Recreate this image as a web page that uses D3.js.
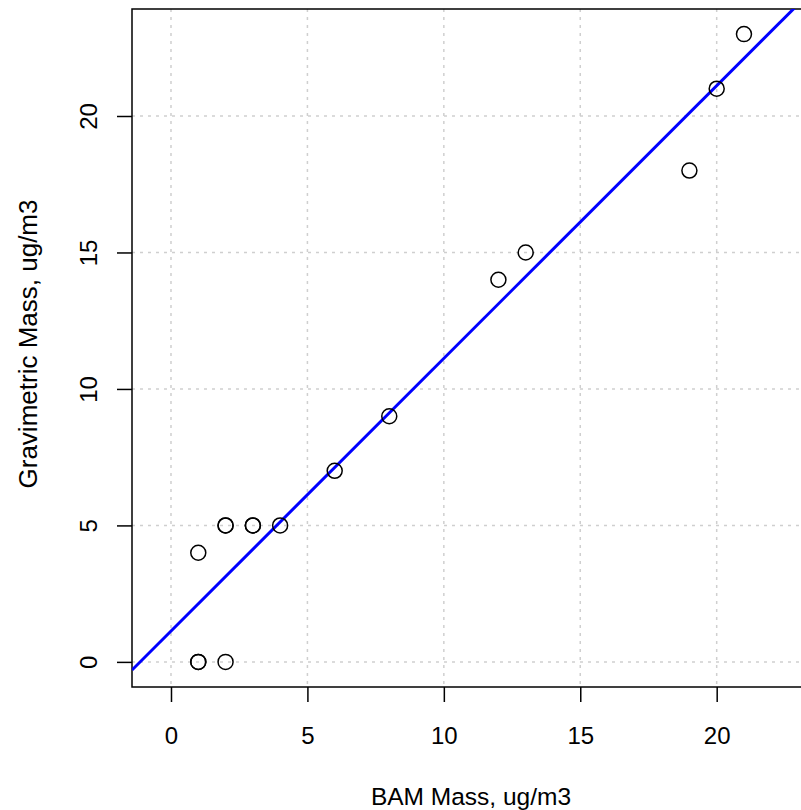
<!DOCTYPE html>
<html>
<head>
<meta charset="utf-8">
<script src="https://cdn.jsdelivr.net/npm/d3@7"></script>
<style>
  html, body { margin: 0; padding: 0; background: #fff; }
  svg { display: block; font-family: "Liberation Sans", Arial, sans-serif; }
</style>
</head>
<body>
<div id="chart"></div>
<script>
// ---- data ----
const bamMass = [1, 1, 2, 1, 2, 2, 3, 3, 4, 6, 8, 12, 13, 19, 20, 21];
const gravMass = [0, 0, 0, 4, 5, 5, 5, 5, 5, 7, 9, 14, 15, 18, 21, 23];
const xTicks = [0, 5, 10, 15, 20];
const yTicks = [0, 5, 10, 15, 20];
const fitIntercept = 1.13;
const fitSlope = 0.999;
const xTitle = "BAM Mass, ug/m3";
const yTitle = "Gravimetric Mass, ug/m3";

// ---- layout ----
const W = 801, H = 810;
const pLeft = 132, pRight = 810, pTop = 9, pBottom = 687;

const svg = d3.select("#chart").append("svg")
  .attr("width", W).attr("height", H);

const x = d3.scaleLinear().domain([-1.429, 23.42]).range([pLeft, pRight]);
const y = d3.scaleLinear().domain([-0.92, 23.92]).range([pBottom, pTop]);

svg.append("defs").append("clipPath").attr("id", "plotclip")
  .append("rect").attr("x", pLeft).attr("y", pTop)
  .attr("width", pRight - pLeft).attr("height", pBottom - pTop);

// grid
const grid = svg.append("g");
grid.selectAll("line.gx").data(xTicks).join("line")
  .attr("x1", d => x(d)).attr("x2", d => x(d))
  .attr("y1", pTop).attr("y2", pBottom)
  .attr("stroke", "#cfcfcf").attr("stroke-width", 1.5)
  .attr("stroke-dasharray", "3,5");
grid.selectAll("line.gy").data(yTicks).join("line")
  .attr("y1", d => y(d)).attr("y2", d => y(d))
  .attr("x1", pLeft).attr("x2", pRight)
  .attr("stroke", "#cfcfcf").attr("stroke-width", 1.5)
  .attr("stroke-dasharray", "3,5");

// axes
const xAxis = d3.axisBottom(x).tickValues(xTicks).tickSize(15).tickPadding(0).tickFormat(d3.format("d"));
const gx = svg.append("g").attr("transform", `translate(0,${pBottom})`).call(xAxis);
gx.select(".domain").remove();
gx.selectAll(".tick line").attr("stroke", "#000").attr("stroke-width", 1.5);
gx.selectAll(".tick text").attr("y", 57).attr("dy", null)
  .attr("font-size", 24).attr("fill", "#000")
  .attr("font-family", "Liberation Sans, Arial, sans-serif");

const yAxis = d3.axisLeft(y).tickValues(yTicks).tickSize(15).tickFormat(d3.format("d"));
const gy = svg.append("g").attr("transform", `translate(${pLeft},0)`).call(yAxis);
gy.select(".domain").remove();
gy.selectAll(".tick line").attr("stroke", "#000").attr("stroke-width", 1.5);
gy.selectAll(".tick text")
  .attr("x", null).attr("dy", null).attr("y", null)
  .attr("text-anchor", "middle")
  .attr("transform", "translate(-35,0) rotate(-90)")
  .attr("font-size", 24).attr("fill", "#000")
  .attr("font-family", "Liberation Sans, Arial, sans-serif");

// box
svg.append("rect").attr("x", pLeft).attr("y", pTop)
  .attr("width", pRight - pLeft).attr("height", pBottom - pTop)
  .attr("fill", "none").attr("stroke", "#000").attr("stroke-width", 1.5);

// fit line
const x0 = x.domain()[0], x1 = x.domain()[1];
svg.append("line")
  .attr("clip-path", "url(#plotclip)")
  .attr("x1", x(x0)).attr("y1", y(fitIntercept + fitSlope * x0))
  .attr("x2", x(x1)).attr("y2", y(fitIntercept + fitSlope * x1))
  .attr("stroke", "#0000ff").attr("stroke-width", 3);

// points
const pts = bamMass.map((v, i) => ({ x: v, y: gravMass[i] }));
svg.append("g").selectAll("circle").data(pts).join("circle")
  .attr("cx", d => x(d.x)).attr("cy", d => y(d.y)).attr("r", 7.5)
  .attr("fill", "none").attr("stroke", "#000").attr("stroke-width", 1.5);

// titles
svg.append("text").attr("x", (pLeft + pRight) / 2).attr("y", 805)
  .attr("text-anchor", "middle").attr("font-size", 24.5).attr("fill", "#000")
  .text(xTitle);
svg.append("text")
  .attr("transform", `translate(37,344) rotate(-90)`)
  .attr("text-anchor", "middle").attr("font-size", 26).attr("fill", "#000")
  .text(yTitle);
</script>
</body>
</html>
